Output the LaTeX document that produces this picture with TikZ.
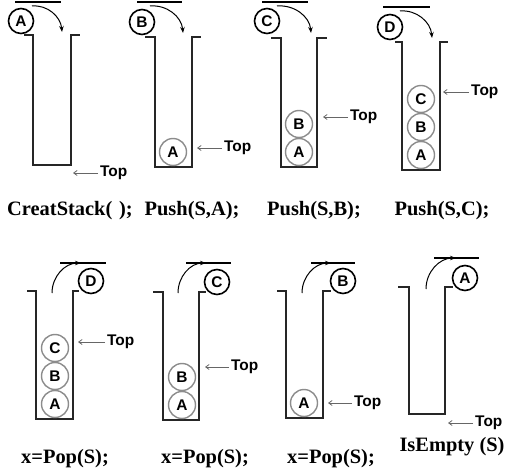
\documentclass[tikz,border=0pt]{standalone}
\usepackage{fontspec}
\setmainfont{Liberation Serif}
\setsansfont{Liberation Sans}
\usetikzlibrary{arrows.meta}

\begin{document}
\begin{tikzpicture}[x=1bp, y=-1bp, >=Stealth,
		wall/.style={line width=1.5bp, black!85},
		lid/.style={line width=1.5bp},
		elem/.style={circle, draw=black!45, line width=1.4bp, minimum size=27bp, inner sep=0pt, font=\sffamily\bfseries\fontsize{15.5}{15.5}\selectfont},
		moving/.style={elem, draw=black, line width=1.6bp, minimum size=25bp},
		toplbl/.style={anchor=west, inner sep=2bp, font=\sffamily\bfseries\fontsize{15.5}{15.5}\selectfont},
		ptr/.style={-{Straight Barb[length=3.5bp, width=5bp]}, black!60, line width=0.8bp},
		swing/.style={-{Stealth[length=6bp, width=4.5bp]}, line width=1bp},
		opname/.style={font=\bfseries\fontsize{20.5}{22}\selectfont}]
	\useasboundingbox (0,0) rectangle (531,472);
	% CreatStack
		\draw[lid] (15,2) -- (61,2);
		\node[moving] (mA) at (21,21) {A};
		\coordinate (s1) at (32,6);
		\coordinate (e1) at (62,32);
		\draw[swing] (s1) to[out=5, in=95] (e1);
		\draw[wall] (24,35) -- (33,35) -- (33,165) -- (71,165) -- (71,35) -- (80,35);
		\coordinate (p1) at (73,173);
		\node[toplbl] (top1) at (98,173) {Top};
		\draw[ptr] (top1) -- (p1);
		\node[opname] (op1) at (70,211) {CreatStack(\,\,);};
	% Push(S,A)
		\draw[lid] (137,2) -- (182,2);
		\node[moving] (mB) at (142,22) {B};
		\coordinate (s2) at (150,6);
		\coordinate (e2) at (183,33);
		\draw[swing] (s2) to[out=5, in=95] (e2);
		\draw[wall] (145,37) -- (155,37) -- (155,167) -- (192,167) -- (192,37) -- (201,37);
		\node[elem] (a2) at (173,152) {A};
		\coordinate (p2) at (197,148);
		\node[toplbl] (top2) at (222,148) {Top};
		\draw[ptr] (top2) -- (p2);
		\node[opname] (op2) at (192,211) {Push(S,A);};
	% Push(S,B)
		\draw[lid] (262,2) -- (308,2);
		\node[moving] (mC) at (267,21) {C};
		\coordinate (s3) at (277,6);
		\coordinate (e3) at (311,33);
		\draw[swing] (s3) to[out=5, in=95] (e3);
		\draw[wall] (271,38) -- (281,38) -- (281,167) -- (317,167) -- (317,38) -- (327,38);
		\node[elem] (a3) at (299,152) {A};
		\node[elem] (b3) at (299,124) {B};
		\coordinate (p3) at (323,117);
		\node[toplbl] (top3) at (348,117) {Top};
		\draw[ptr] (top3) -- (p3);
		\node[opname] (op3) at (314,211) {Push(S,B);};
	% Push(S,C)
		\draw[lid] (383,7) -- (430,7);
		\node[moving] (mD) at (390,27) {D};
		\coordinate (s4) at (400,11);
		\coordinate (e4) at (432,38);
		\draw[swing] (s4) to[out=5, in=95] (e4);
		\draw[wall] (395,42) -- (402,42) -- (402,170) -- (440,170) -- (440,42) -- (448,42);
		\node[elem] (a4) at (421,155) {A};
		\node[elem] (b4) at (421,127) {B};
		\node[elem] (c4) at (421,99) {C};
		\coordinate (p4) at (443,92);
		\node[toplbl] (top4) at (469,92) {Top};
		\draw[ptr] (top4) -- (p4);
		\node[opname] (op4) at (442,211) {Push(S,C);};
	% x=Pop(S)
		\draw[lid] (60,263) -- (106,263);
		\node[moving] (xD) at (91,281) {D};
		\coordinate (s5) at (52,293);
		\coordinate (e5) at (81,263);
		\draw[swing] (s5) to[out=90, in=180] (e5);
		\draw[wall] (27,291) -- (36,291) -- (36,419) -- (73,419) -- (73,291) -- (79,291);
		\node[elem] (a5) at (55,404) {A};
		\node[elem] (b5) at (55,376) {B};
		\node[elem] (c5) at (55,348) {C};
		\coordinate (p5) at (78,342);
		\node[toplbl] (top5) at (105,342) {Top};
		\draw[ptr] (top5) -- (p5);
		\node[opname] (op5) at (65,459) {x=Pop(S);};
	% x=Pop(S)
		\draw[lid] (186,263) -- (231,263);
		\node[moving] (xC) at (217,282) {C};
		\coordinate (s6) at (178,293);
		\coordinate (e6) at (206,263);
		\draw[swing] (s6) to[out=90, in=180] (e6);
		\draw[wall] (153,292) -- (163,292) -- (163,420) -- (199,420) -- (199,292) -- (206,292);
		\node[elem] (a6) at (182,405) {A};
		\node[elem] (b6) at (182,377) {B};
		\coordinate (p6) at (205,367);
		\node[toplbl] (top6) at (229,367) {Top};
		\draw[ptr] (top6) -- (p6);
		\node[opname] (op6) at (205,459) {x=Pop(S);};
	% x=Pop(S)
		\draw[lid] (311,263) -- (355,263);
		\node[moving] (xB) at (343,281) {B};
		\coordinate (s7) at (302,293);
		\coordinate (e7) at (331,263);
		\draw[swing] (s7) to[out=90, in=180] (e7);
		\draw[wall] (277,291) -- (286,291) -- (286,418) -- (323,418) -- (323,291) -- (331,291);
		\node[elem] (a7) at (304,403) {A};
		\coordinate (p7) at (328,403);
		\node[toplbl] (top7) at (352,403) {Top};
		\draw[ptr] (top7) -- (p7);
		\node[opname] (op7) at (331,459) {x=Pop(S);};
	% IsEmpty
		\draw[lid] (434,258) -- (479,258);
		\node[moving] (xA) at (465,278) {A};
		\coordinate (s8) at (426,289);
		\coordinate (e8) at (456,258);
		\draw[swing] (s8) to[out=90, in=180] (e8);
		\draw[wall] (398,287) -- (409,287) -- (409,414) -- (445,414) -- (445,287) -- (453,287);
		\coordinate (p8) at (448,423);
		\node[toplbl] (top8) at (473,423) {Top};
		\draw[ptr] (top8) -- (p8);
		\node[opname] (op8) at (452,447) {IsEmpty (S)};
	\end{tikzpicture}
\end{document}
